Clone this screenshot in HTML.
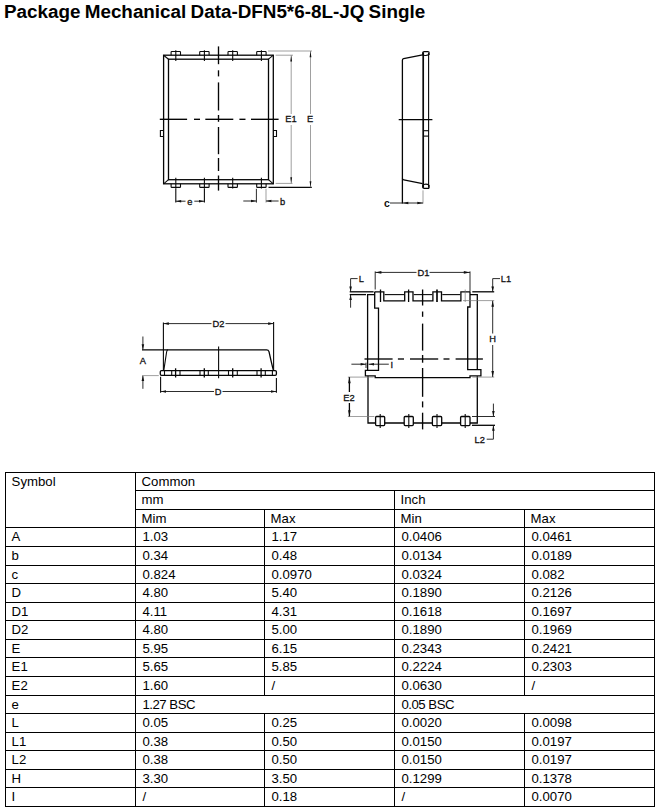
<!DOCTYPE html>
<html lang="en">
<head>
<meta charset="utf-8">
<title>Package Mechanical Data-DFN5*6-8L-JQ Single</title>
<style>
html,body{margin:0;padding:0;background:#fff;}
body{width:660px;height:812px;position:relative;overflow:hidden;font-family:"Liberation Sans",sans-serif;color:#000;}
h1{position:absolute;left:4px;top:0;margin:0;font-size:18.85px;line-height:21px;font-weight:bold;white-space:nowrap;word-spacing:-1px;top:1px;}
svg.drawings{position:absolute;left:0;top:0;}
svg .m{fill:none;stroke:#050505;stroke-width:1.3;}
svg .k{fill:none;stroke:#0a0a0a;stroke-width:1.7;}
svg .n{fill:none;stroke:#0a0a0a;stroke-width:1.1;}
svg .c{fill:none;stroke:#050505;stroke-width:1.35;}
svg .d{fill:none;stroke:#151515;stroke-width:0.9;}
svg .g{fill:none;stroke:#777;stroke-width:0.7;}
svg text{font-family:"Liberation Sans",sans-serif;fill:#111;}
svg .t{font-size:9.3px;stroke:#111;stroke-width:0.3;}
svg .tb{font-size:10.5px;font-weight:bold;}
table.dims{position:absolute;left:5px;top:472px;border-collapse:collapse;table-layout:fixed;width:650px;font-size:13.2px;}
table.dims th,table.dims td{border:1px solid #000;padding:1px 0 0 6.5px;text-align:left;vertical-align:top;font-weight:normal;line-height:16px;white-space:nowrap;overflow:hidden;}
table.dims th,table.dims td:first-child{padding-left:5.6px;}
table.dims td.bsc{letter-spacing:-0.5px;}
</style>
</head>
<body>
<h1>Package Mechanical Data-DFN5*6-8L-JQ Single</h1>
<svg class="drawings" width="660" height="470" viewBox="0 0 660 470">
<g id="top-view">
<rect class="m" x="163.6" y="55.2" width="109.7" height="128.6" rx="0.0"/>
<rect class="m" x="168.5" y="59.2" width="100.0" height="120.5" rx="0.0"/>
<line class="n" x1="163.6" y1="55.2" x2="168.5" y2="59.2"/>
<line class="n" x1="273.3" y1="55.2" x2="268.5" y2="59.2"/>
<line class="n" x1="163.6" y1="183.8" x2="168.5" y2="179.7"/>
<line class="n" x1="273.3" y1="183.8" x2="268.5" y2="179.7"/>
<path class="n" d="M171.1 55.2 V52.2 Q171.1 51.5 171.8 51.5 H179.8 Q180.5 51.5 180.5 52.2 V55.2"/>
<line class="n" x1="175.8" y1="50.3" x2="175.8" y2="60.9"/>
<path class="n" d="M171.1 183.8 V186.7 Q171.1 187.4 171.8 187.4 H179.8 Q180.5 187.4 180.5 186.7 V183.8"/>
<line class="n" x1="175.8" y1="177.8" x2="175.8" y2="188.4"/>
<path class="n" d="M199.7 55.2 V52.2 Q199.7 51.5 200.4 51.5 H208.4 Q209.1 51.5 209.1 52.2 V55.2"/>
<line class="n" x1="204.4" y1="50.3" x2="204.4" y2="60.9"/>
<path class="n" d="M199.7 183.8 V186.7 Q199.7 187.4 200.4 187.4 H208.4 Q209.1 187.4 209.1 186.7 V183.8"/>
<line class="n" x1="204.4" y1="177.8" x2="204.4" y2="188.4"/>
<path class="n" d="M228.0 55.2 V52.2 Q228.0 51.5 228.7 51.5 H236.7 Q237.4 51.5 237.4 52.2 V55.2"/>
<line class="n" x1="232.7" y1="50.3" x2="232.7" y2="60.9"/>
<path class="n" d="M228.0 183.8 V186.7 Q228.0 187.4 228.7 187.4 H236.7 Q237.4 187.4 237.4 186.7 V183.8"/>
<line class="n" x1="232.7" y1="177.8" x2="232.7" y2="188.4"/>
<path class="n" d="M256.7 55.2 V52.2 Q256.7 51.5 257.4 51.5 H265.4 Q266.1 51.5 266.1 52.2 V55.2"/>
<line class="n" x1="261.4" y1="50.3" x2="261.4" y2="60.9"/>
<path class="n" d="M256.7 183.8 V186.7 Q256.7 187.4 257.4 187.4 H265.4 Q266.1 187.4 266.1 186.7 V183.8"/>
<line class="n" x1="261.4" y1="177.8" x2="261.4" y2="188.4"/>
<path class="n" d="M163.6 130.5 H160.4 V136.5 H163.6"/>
<path class="n" d="M273.3 130.5 H276.5 V136.5 H273.3"/>
<line class="c" x1="218.5" y1="46.4" x2="218.5" y2="64.2"/><line class="c" x1="218.5" y1="70.3" x2="218.5" y2="76.4"/><line class="c" x1="218.5" y1="82.4" x2="218.5" y2="110.5"/><line class="c" x1="218.5" y1="115.0" x2="218.5" y2="121.8"/><line class="c" x1="218.5" y1="127.0" x2="218.5" y2="154.2"/><line class="c" x1="218.5" y1="158.0" x2="218.5" y2="171.0"/><line class="c" x1="218.5" y1="175.5" x2="218.5" y2="190.6"/>
<line class="c" x1="159.8" y1="119.3" x2="187.1" y2="119.3"/><line class="c" x1="194.0" y1="119.3" x2="200.0" y2="119.3"/><line class="c" x1="205.3" y1="119.3" x2="233.3" y2="119.3"/><line class="c" x1="239.4" y1="119.3" x2="245.5" y2="119.3"/><line class="c" x1="251.0" y1="119.3" x2="278.6" y2="119.3"/>
<line class="g" x1="268.0" y1="51.0" x2="312.0" y2="51.0"/>
<line class="g" x1="275.6" y1="55.2" x2="293.0" y2="55.2"/>
<line class="g" x1="275.6" y1="183.4" x2="292.5" y2="183.4"/>
<line class="n" x1="268.5" y1="187.4" x2="311.8" y2="187.4"/>
<line class="g" x1="291.2" y1="55.2" x2="291.2" y2="114.0"/>
<line class="g" x1="291.2" y1="125.0" x2="291.2" y2="183.4"/>
<line class="g" x1="310.5" y1="51.0" x2="310.5" y2="114.0"/>
<line class="g" x1="310.5" y1="125.0" x2="310.5" y2="187.4"/>
<polygon points="291.2,55.4 290.3,61.4 292.1,61.4" fill="#111"/>
<polygon points="291.2,183.2 290.3,177.2 292.1,177.2" fill="#111"/>
<polygon points="310.5,51.2 309.6,57.2 311.4,57.2" fill="#111"/>
<polygon points="310.5,187.2 309.6,181.2 311.4,181.2" fill="#111"/>
<text class="t" x="291.0" y="122.4" text-anchor="middle">E1</text>
<text class="t" x="310.2" y="122.4" text-anchor="middle">E</text>
<line class="n" x1="175.8" y1="188.4" x2="175.8" y2="202.6"/>
<line class="n" x1="204.4" y1="188.4" x2="204.4" y2="202.6"/>
<line class="d" x1="175.8" y1="201.2" x2="185.5" y2="201.2"/>
<line class="d" x1="194.3" y1="201.2" x2="204.4" y2="201.2"/>
<polygon points="176.0,201.2 181.2,199.9 181.2,202.5" fill="#111"/>
<polygon points="204.2,201.2 199.0,199.9 199.0,202.5" fill="#111"/>
<text class="t" x="189.8" y="204.9" text-anchor="middle">e</text>
<line class="d" x1="256.4" y1="188.8" x2="256.4" y2="202.6"/>
<line class="g" x1="266.0" y1="188.8" x2="266.0" y2="202.6"/>
<line class="d" x1="243.3" y1="201.0" x2="256.4" y2="201.0"/>
<line class="d" x1="266.0" y1="201.0" x2="278.6" y2="201.0"/>
<polygon points="256.2,201.0 251.0,199.7 251.0,202.3" fill="#111"/>
<polygon points="266.2,201.0 271.4,199.7 271.4,202.3" fill="#111"/>
<text class="t" x="280.0" y="204.6" text-anchor="start">b</text>
</g>
<g id="side-view">
<path class="m" d="M402.4 203.6 V60.2 Q402.4 59 403.6 58.7 L422.6 54.8"/>
<path class="m" d="M402.4 178.5 Q402.6 179.6 403.8 179.8 L422.6 183.6"/>
<line class="k" x1="423.2" y1="52.4" x2="423.2" y2="187.8"/>
<line class="n" x1="428.6" y1="53.0" x2="428.6" y2="187.4"/>
<path class="m" d="M422.8 55.4 V53 Q422.8 51.6 424.2 51.6 H427.8 Q429.2 51.6 429 53 V55"/>
<path class="n" d="M424 55.2 Q426.5 56 429 54.6"/>
<path class="m" d="M422.8 184.6 V187 Q422.8 188.4 424.2 188.4 H427.8 Q429.2 188.4 429 187 V185"/>
<path class="n" d="M424 184.4 Q426.5 183.6 429 185"/>
<line class="n" x1="424.0" y1="130.7" x2="428.6" y2="130.7"/>
<line class="n" x1="424.0" y1="136.1" x2="428.6" y2="136.1"/>
<line class="m" x1="398.7" y1="119.6" x2="432.4" y2="119.6"/>
<line class="g" x1="423.0" y1="190.3" x2="423.0" y2="203.6"/>
<line class="d" x1="390.0" y1="203.0" x2="423.0" y2="203.0"/>
<polygon points="402.8,203.0 408.3,201.7 408.3,204.3" fill="#111"/>
<polygon points="422.8,203.0 417.3,201.7 417.3,204.3" fill="#111"/>
<text class="tb" x="384.0" y="206.8" text-anchor="start">c</text>
</g>
<g id="front-view">
<path class="m" d="M142 349.8 H266.6 Q268.4 349.8 269 351.6 Q271.5 363 273.4 370.4"/>
<path class="n" d="M167.9 349.8 Q167 350 166.6 352 L163.8 370.4"/>
<rect class="m" x="160.3" y="370.6" width="116.1" height="4.7" rx="1.2"/>
<line class="n" x1="164.5" y1="370.6" x2="164.5" y2="375.3"/>
<line class="n" x1="171.7" y1="370.6" x2="171.7" y2="375.3"/>
<line class="n" x1="180.0" y1="370.6" x2="180.0" y2="375.3"/>
<line class="n" x1="200.0" y1="370.6" x2="200.0" y2="375.3"/>
<line class="n" x1="208.3" y1="370.6" x2="208.3" y2="375.3"/>
<line class="n" x1="228.5" y1="370.6" x2="228.5" y2="375.3"/>
<line class="n" x1="237.3" y1="370.6" x2="237.3" y2="375.3"/>
<line class="n" x1="257.0" y1="370.6" x2="257.0" y2="375.3"/>
<line class="n" x1="265.3" y1="370.6" x2="265.3" y2="375.3"/>
<line class="n" x1="272.4" y1="370.6" x2="272.4" y2="375.3"/>
<line class="m" x1="175.6" y1="368.3" x2="175.6" y2="377.5"/>
<line class="m" x1="204.3" y1="368.3" x2="204.3" y2="377.5"/>
<line class="m" x1="232.7" y1="368.3" x2="232.7" y2="377.5"/>
<line class="m" x1="261.1" y1="368.3" x2="261.1" y2="377.5"/>
<line class="n" x1="218.6" y1="346.4" x2="218.6" y2="378.2"/>
<line class="n" x1="163.4" y1="322.6" x2="163.4" y2="370.4"/>
<line class="n" x1="273.6" y1="322.0" x2="273.6" y2="370.4"/>
<line class="d" x1="163.4" y1="323.6" x2="211.5" y2="323.6"/>
<line class="d" x1="225.5" y1="323.6" x2="273.6" y2="323.6"/>
<polygon points="163.6,323.6 168.8,322.3 168.8,324.9" fill="#111"/>
<polygon points="273.4,323.6 268.2,322.3 268.2,324.9" fill="#111"/>
<text class="t" x="218.4" y="327.0" text-anchor="middle">D2</text>
<line class="n" x1="160.6" y1="376.7" x2="160.6" y2="392.8"/>
<line class="n" x1="276.4" y1="378.0" x2="276.4" y2="392.8"/>
<line class="d" x1="160.6" y1="391.5" x2="214.0" y2="391.5"/>
<line class="d" x1="222.5" y1="391.5" x2="276.4" y2="391.5"/>
<polygon points="160.8,391.5 166.0,390.2 166.0,392.8" fill="#111"/>
<polygon points="276.2,391.5 271.0,390.2 271.0,392.8" fill="#111"/>
<text class="t" x="218.2" y="394.9" text-anchor="middle">D</text>
<line class="d" x1="142.9" y1="336.5" x2="142.9" y2="349.6"/>
<polygon points="142.9,349.4 141.6,344.2 144.2,344.2" fill="#111"/>
<line class="d" x1="142.9" y1="375.8" x2="142.9" y2="388.8"/>
<polygon points="142.9,375.8 141.6,381.0 144.2,381.0" fill="#111"/>
<line class="g" x1="142.0" y1="375.6" x2="158.8" y2="375.6"/>
<text class="t" x="142.9" y="363.9" text-anchor="middle">A</text>
</g>
<g id="bottom-view">
<path class="m" d="M367.6 370.3 V294.6 H374.7"/>
<path class="m" d="M374.7 291.8 V308.2 H378.5 V370.3 H365.4 V375.9 H375.2 V377.6 H470 V375.9 H480.9 V369.6 H467.7 V307 H470 V291.8"/>
<path class="m" d="M470 294.6 H477.3 V369.6"/>
<path class="m" d="M374.7 291.8 H383.8 V300.9 H404.7 V291.8 H413 V300.9 H432.9 V291.8 H441.5 V300.9 H460.9 V291.8 H470"/>
<line class="n" x1="384.6" y1="294.6" x2="404.0" y2="294.6"/>
<line class="n" x1="413.8" y1="294.6" x2="432.2" y2="294.6"/>
<line class="n" x1="442.3" y1="294.6" x2="460.2" y2="294.6"/>
<line class="m" x1="380.5" y1="289.5" x2="380.5" y2="302.0"/>
<line class="m" x1="408.6" y1="289.5" x2="408.6" y2="302.0"/>
<line class="k" x1="437.0" y1="289.5" x2="437.0" y2="302.0"/>
<line class="g" x1="465.2" y1="289.5" x2="465.2" y2="302.0"/>
<path class="m" d="M368 375.9 V423 H375.6 M384.7 423 H404.2 M413.3 423 H432.4 M441.7 423 H460.6 M470 423 H477.3 V375.9"/>
<rect class="m" x="375.6" y="416.5" width="9.1" height="9.1" rx="1.0"/>
<line class="n" x1="380.2" y1="414.0" x2="380.2" y2="427.9"/>
<rect class="m" x="404.2" y="416.5" width="9.1" height="9.1" rx="1.0"/>
<line class="n" x1="408.8" y1="414.0" x2="408.8" y2="427.9"/>
<rect class="m" x="432.4" y="416.5" width="9.3" height="9.1" rx="1.0"/>
<line class="n" x1="437.0" y1="414.0" x2="437.0" y2="427.9"/>
<rect class="m" x="460.6" y="416.5" width="9.4" height="9.1" rx="1.0"/>
<line class="n" x1="465.2" y1="414.0" x2="465.2" y2="427.9"/>
<line class="c" x1="422.6" y1="289.5" x2="422.6" y2="305.5"/><line class="c" x1="422.6" y1="311.5" x2="422.6" y2="316.8"/><line class="c" x1="422.6" y1="323.6" x2="422.6" y2="350.6"/><line class="c" x1="422.6" y1="355.0" x2="422.6" y2="362.7"/><line class="c" x1="422.6" y1="368.0" x2="422.6" y2="396.8"/><line class="c" x1="422.6" y1="401.4" x2="422.6" y2="407.4"/><line class="c" x1="422.6" y1="412.7" x2="422.6" y2="429.4"/>
<line class="c" x1="364.5" y1="359.0" x2="392.6" y2="359.0"/><line class="c" x1="397.9" y1="359.0" x2="404.0" y2="359.0"/><line class="c" x1="410.0" y1="359.0" x2="438.2" y2="359.0"/><line class="c" x1="443.5" y1="359.0" x2="449.5" y2="359.0"/><line class="c" x1="455.6" y1="359.0" x2="482.9" y2="359.0"/>
<line class="d" x1="375.2" y1="271.4" x2="375.2" y2="289.5"/>
<line class="d" x1="470.0" y1="271.4" x2="470.0" y2="291.8"/>
<line class="d" x1="375.2" y1="272.4" x2="416.5" y2="272.4"/>
<line class="d" x1="429.5" y1="272.4" x2="470.0" y2="272.4"/>
<polygon points="375.4,272.4 381.4,271.1 381.4,273.7" fill="#111"/>
<polygon points="469.8,272.4 463.8,271.1 463.8,273.7" fill="#111"/>
<text class="t" x="423.4" y="276.0" text-anchor="middle">D1</text>
<path class="d" d="M357.6 278.6 H350.6 V291.6"/>
<polygon points="350.6,291.6 349.3,286.4 351.9,286.4" fill="#111"/>
<polygon points="350.6,294.8 349.3,300.0 351.9,300.0" fill="#111"/>
<line class="d" x1="350.6" y1="294.8" x2="350.6" y2="307.7"/>
<line class="m" x1="349.7" y1="291.8" x2="373.6" y2="291.8"/>
<line class="m" x1="349.7" y1="294.6" x2="366.0" y2="294.6"/>
<text class="t" x="358.8" y="282.4" text-anchor="start">L</text>
<path class="d" d="M500 278.6 H492.7 V291.6"/>
<polygon points="492.7,291.6 491.4,286.4 494.0,286.4" fill="#111"/>
<line class="m" x1="472.3" y1="291.8" x2="494.2" y2="291.8"/>
<text class="t" x="500.8" y="282.3" text-anchor="start">L1</text>
<line class="g" x1="463.0" y1="300.6" x2="494.2" y2="300.6"/>
<line class="g" x1="472.3" y1="377.1" x2="494.2" y2="377.1"/>
<line class="d" x1="492.7" y1="300.8" x2="492.7" y2="333.5"/>
<line class="d" x1="492.7" y1="345.0" x2="492.7" y2="377.0"/>
<polygon points="492.7,300.8 491.4,306.8 494.0,306.8" fill="#111"/>
<polygon points="492.7,377.0 491.4,371.0 494.0,371.0" fill="#111"/>
<text class="t" x="492.7" y="342.0" text-anchor="middle">H</text>
<line class="d" x1="366.0" y1="362.7" x2="366.0" y2="368.0"/>
<line class="d" x1="351.4" y1="364.2" x2="366.0" y2="364.2"/>
<polygon points="365.8,364.2 360.6,362.9 360.6,365.5" fill="#111"/>
<line class="d" x1="368.6" y1="364.2" x2="388.8" y2="364.2"/>
<polygon points="368.8,364.2 374.0,362.9 374.0,365.5" fill="#111"/>
<text class="t" x="390.4" y="367.8" text-anchor="start">I</text>
<line class="g" x1="347.9" y1="377.1" x2="373.6" y2="377.1"/>
<line class="g" x1="347.9" y1="416.5" x2="374.4" y2="416.5"/>
<line class="m" x1="349.4" y1="377.2" x2="349.4" y2="392.0"/>
<line class="m" x1="349.4" y1="403.0" x2="349.4" y2="416.4"/>
<polygon points="349.4,377.3 348.1,383.3 350.7,383.3" fill="#111"/>
<polygon points="349.4,416.3 348.1,410.3 350.7,410.3" fill="#111"/>
<text class="t" x="349.0" y="400.7" text-anchor="middle">E2</text>
<line class="d" x1="472.0" y1="416.5" x2="495.0" y2="416.5"/>
<line class="m" x1="472.0" y1="425.3" x2="495.0" y2="425.3"/>
<line class="d" x1="493.4" y1="403.6" x2="493.4" y2="416.3"/>
<polygon points="493.4,416.3 492.1,411.1 494.7,411.1" fill="#111"/>
<path class="d" d="M486.7 439.2 H493.4 V425.5"/>
<polygon points="493.4,425.5 492.1,430.7 494.7,430.7" fill="#111"/>
<text class="t" x="474.6" y="442.7" text-anchor="start">L2</text>
</g>
</svg>
<table class="dims">
<colgroup><col style="width:130px"><col style="width:129px"><col style="width:130px"><col style="width:130px"><col style="width:130px"></colgroup>
<thead>
<tr style="height:18px"><th rowspan="3">Symbol</th><th colspan="4">Common</th></tr>
<tr style="height:19px"><th colspan="2">mm</th><th colspan="2">Inch</th></tr>
<tr style="height:18px"><th>Mim</th><th>Max</th><th>Min</th><th>Max</th></tr>
</thead>
<tbody>
<tr style="height:19px"><td>A</td><td>1.03</td><td>1.17</td><td>0.0406</td><td>0.0461</td></tr>
<tr style="height:19px"><td>b</td><td>0.34</td><td>0.48</td><td>0.0134</td><td>0.0189</td></tr>
<tr style="height:18px"><td>c</td><td>0.824</td><td>0.0970</td><td>0.0324</td><td>0.082</td></tr>
<tr style="height:19px"><td>D</td><td>4.80</td><td>5.40</td><td>0.1890</td><td>0.2126</td></tr>
<tr style="height:18px"><td>D1</td><td>4.11</td><td>4.31</td><td>0.1618</td><td>0.1697</td></tr>
<tr style="height:19px"><td>D2</td><td>4.80</td><td>5.00</td><td>0.1890</td><td>0.1969</td></tr>
<tr style="height:18px"><td>E</td><td>5.95</td><td>6.15</td><td>0.2343</td><td>0.2421</td></tr>
<tr style="height:19px"><td>E1</td><td>5.65</td><td>5.85</td><td>0.2224</td><td>0.2303</td></tr>
<tr style="height:19px"><td>E2</td><td>1.60</td><td>/</td><td>0.0630</td><td>/</td></tr>
<tr style="height:18px"><td>e</td><td colspan="2" class="bsc">1.27 BSC</td><td colspan="2" class="bsc">0.05 BSC</td></tr>
<tr style="height:19px"><td>L</td><td>0.05</td><td>0.25</td><td>0.0020</td><td>0.0098</td></tr>
<tr style="height:18px"><td>L1</td><td>0.38</td><td>0.50</td><td>0.0150</td><td>0.0197</td></tr>
<tr style="height:19px"><td>L2</td><td>0.38</td><td>0.50</td><td>0.0150</td><td>0.0197</td></tr>
<tr style="height:18px"><td>H</td><td>3.30</td><td>3.50</td><td>0.1299</td><td>0.1378</td></tr>
<tr style="height:19px"><td>I</td><td>/</td><td>0.18</td><td>/</td><td>0.0070</td></tr>
</tbody>
</table>
</body>
</html>
